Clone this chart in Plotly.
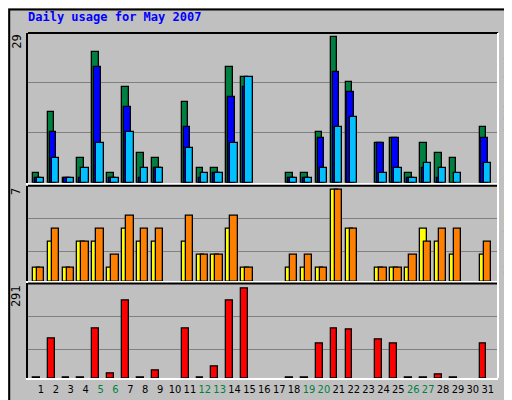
import plotly.graph_objects as go
from plotly.subplots import make_subplots

days = list(range(1, 32))
weekend_days = [5, 6, 12, 13, 19, 20, 26, 27]

hits = [2, 14, 1, 5, 26, 2, 19, 6, 5, 0, 16, 3, 3, 23, 21, 0, 0, 2, 2, 10, 29, 20, 0, 8, 9, 2, 8, 6, 5, 0, 11]
files = [1, 10, 1, 1, 23, 1, 15, 1, 3, 0, 11, 1, 2, 17, 19, 0, 0, 1, 1, 9, 22, 18, 0, 8, 9, 1, 3, 1, 0, 0, 9]
pages = [1, 5, 1, 3, 8, 1, 10, 3, 3, 0, 7, 2, 2, 8, 21, 0, 0, 1, 1, 3, 11, 13, 0, 2, 3, 1, 4, 3, 2, 0, 4]
visits = [1, 3, 1, 3, 3, 1, 4, 3, 3, 0, 3, 2, 2, 4, 1, 0, 0, 1, 1, 1, 7, 4, 0, 1, 1, 1, 4, 3, 2, 0, 2]
sites = [1, 4, 1, 3, 4, 2, 5, 4, 4, 0, 5, 2, 2, 5, 1, 0, 0, 2, 2, 1, 7, 4, 0, 1, 1, 2, 3, 4, 4, 0, 3]
kbytes = [1, 130, 1, 1, 161, 15, 251, 1, 24, 0, 161, 1, 37, 251, 291, 0, 0, 1, 1, 114, 161, 158, 0, 126, 114, 1, 1, 12, 1, 0, 114]

GREEN = "#008040"
FONT = "DejaVu Sans Mono"

fig = make_subplots(rows=3, cols=1, shared_xaxes=True, vertical_spacing=0)

def bars(y, color, offset, width, row):
    # zero days draw nothing
    y = [v if v else None for v in y]
    fig.add_trace(go.Bar(x=days, y=y, offset=offset, width=width,
                         marker=dict(color=color, line=dict(color="black", width=1.3))),
                  row=row, col=1)

bars(hits, GREEN, -0.55, 0.45, 1)
bars(files, "#0000FF", -0.42, 0.45, 1)
bars(pages, "#00C0FF", -0.28, 0.5, 1)
bars(visits, "#FFFF00", -0.55, 0.5, 2)
bars(sites, "#FF8000", -0.28, 0.5, 2)
bars(kbytes, "#FF0000", -0.55, 0.46, 3)

ticktext = [f"<span style='color:{GREEN if d in weekend_days else 'black'}'>{d}</span>" for d in days]

fig.update_layout(
    width=512, height=400,
    margin=dict(l=20, r=22, t=25, b=25),
    paper_bgcolor="#C0C0C0", plot_bgcolor="#C0C0C0",
    barmode="overlay", showlegend=False, bargap=0,
    font=dict(family=FONT, size=12, color="black"),
    yaxis=dict(domain=[0.566, 1], range=[0, 29.8], tickvals=[9.9, 19.9]),
    yaxis2=dict(domain=[0.28, 0.557], range=[0, 7.3], tickvals=[2.26, 4.8]),
    yaxis3=dict(domain=[0, 0.274], range=[0, 308], tickvals=[94, 200]),
)
for i in (1, 2, 3):
    fig.update_yaxes(showticklabels=False, showgrid=True, gridcolor="#808080", gridwidth=1.3,
                     zeroline=False, showline=True, linecolor="black", linewidth=2, row=i, col=1)
    fig.update_xaxes(range=[0.13, 31.69], showgrid=False, zeroline=False, showline=True,
                     linecolor="white", linewidth=2, tickvals=days, ticktext=ticktext,
                     showticklabels=(i == 3), ticks="", tickangle=0,
                     tickfont=dict(size=11, family="DejaVu Sans Condensed"), row=i, col=1)

# top borders of panels
for y0 in (1.0, 0.557, 0.274):
    fig.add_shape(type="line", xref="paper", yref="paper", x0=0, x1=1, y0=y0, y1=y0,
                  line=dict(color="black", width=2))
fig.add_shape(type="line", xref="paper", yref="paper", x0=1, x1=1, y0=0, y1=1,
              line=dict(color="white", width=2))
# outer frame
fig.add_shape(type="rect", xref="paper", yref="paper", x0=-0.04, x1=1.044, y0=-0.07, y1=1.068,
              line=dict(color="black", width=2))

fig.add_annotation(text="<b>Daily usage for May 2007</b>", xref="paper", yref="paper",
                   x=-0.005, y=1.045, xanchor="left", yanchor="middle", showarrow=False,
                   font=dict(color="#0000FF", size=12, family=FONT))

for label, y in (("29", 1.0), ("7", 0.557), ("291", 0.274)):
    fig.add_annotation(text=label, textangle=-90, xref="paper", yref="paper", x=-0.005, y=y,
                       xanchor="right", yanchor="top", showarrow=False, font=dict(size=12))

right = [
    ("<span style='color:#00C0FF'>Pages</span> / <span style='color:#0000FF'>Files</span> / "
     "<span style='color:" + GREEN + "'>Hits</span>", 0.783),
    ("<span style='color:#FF8000'>Sites</span> / <span style='color:#FFFF00'>Visits</span>", 0.43),
    ("<span style='color:#FF0000'>kB F</span> / <span style='color:#0000FF'>kB In</span> / "
     "<span style='color:" + GREEN + "'>kB Out</span>", 0.13),
]
for text, y in right:
    fig.add_annotation(text=text, textangle=-90, xref="paper", yref="paper", x=1.0234, y=y,
                       xanchor="center", yanchor="middle", showarrow=False,
                       font=dict(size=11), borderpad=0)

fig.write_html("out.html")
